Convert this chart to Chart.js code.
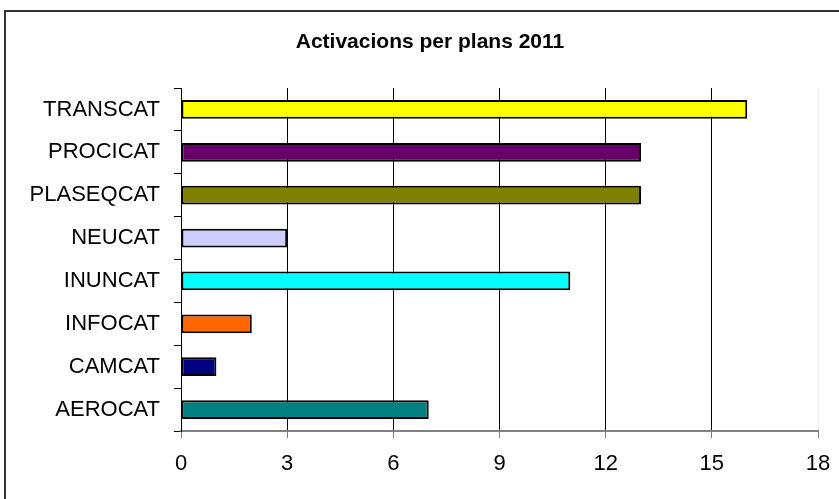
<!DOCTYPE html>
<html>
<head>
<meta charset="utf-8">
<script src="https://cdn.jsdelivr.net/npm/chart.js@4/dist/chart.umd.min.js"></script>
<style>
  html, body { margin: 0; padding: 0; background: #fff; }
  #wrap { position: relative; width: 839px; height: 499px; }
</style>
</head>
<body>
<div id="wrap"><canvas id="chart" width="839" height="499"></canvas></div>
<script>
// data, top to bottom
const plans = ["TRANSCAT", "PROCICAT", "PLASEQCAT", "NEUCAT", "INUNCAT", "INFOCAT", "CAMCAT", "AEROCAT"];
const activations = [16, 13, 13, 3, 11, 2, 1, 7];
const barColors = ["#ffff00", "#660066", "#808000", "#ccccff", "#00ffff", "#ff6600", "#000080", "#008080"];
const xTicks = [0, 3, 6, 9, 12, 15, 18];
const chartTitle = "Activacions per plans 2011";

const FONT = "'Liberation Sans', Arial, sans-serif";

// white background + outer frame of the chart object
const Frame = {
  id: "frame",
  beforeDraw(chart) {
    const { ctx } = chart;
    ctx.save();
    ctx.fillStyle = "#fff";
    ctx.fillRect(0, 0, chart.width, chart.height);
    ctx.strokeStyle = "#333";
    ctx.lineWidth = 2;
    ctx.strokeRect(5, 11, 900, 600);
    ctx.restore();
  }
};

// title sits a bit right of the plot centre in the original, so draw it ourselves
const Title = {
  id: "plainTitle",
  afterDraw(chart) {
    const { ctx } = chart;
    ctx.save();
    ctx.font = "bold 21px " + FONT;
    ctx.fillStyle = "#000";
    ctx.textAlign = "center";
    ctx.textBaseline = "alphabetic";
    ctx.fillText(chartTitle, 430, 48);
    ctx.restore();
  }
};

new Chart(document.getElementById("chart"), {
  type: "bar",
  data: {
    labels: plans,
    datasets: [{
      data: activations,
      backgroundColor: barColors,
      borderColor: "#000",
      borderWidth: 2,
      borderSkipped: false,
      barPercentage: 0.44,
      categoryPercentage: 1
    }]
  },
  options: {
    indexAxis: "y",
    responsive: false,
    animation: false,
    layout: { padding: { left: 0, right: 21, top: 88, bottom: 0 } },
    plugins: {
      legend: { display: false },
      tooltip: { enabled: false },
      title: { display: false }
    },
    scales: {
      x: {
        min: 0,
        max: 18,
        afterBuildTicks: (s) => { s.ticks = xTicks.map(v => ({ value: v })); },
        afterFit: (s) => {
          s.height = 68;
          // keep the plot edge fixed, the "18" label has room in the padding
          s.paddingLeft = 0;
          s.paddingRight = 0;
        },
        grid: {
          color: (c) => (c.tick && c.tick.value === 18 ? "#eeeeee" : "#000"),
          tickColor: "#808080",
          tickLength: 7,
          lineWidth: 1
        },
        border: { color: "#808080", width: 2 },
        ticks: {
          color: "#000",
          padding: 13,
          font: { family: FONT, size: 22 }
        }
      },
      y: {
        afterFit: (s) => { s.width = 181; },
        grid: {
          drawOnChartArea: false,
          offset: true,
          tickColor: "#000",
          tickLength: 7
        },
        border: { color: "#000", width: 1 },
        ticks: {
          color: "#000",
          padding: 14,
          font: { family: FONT, size: 22 }
        }
      }
    }
  },
  plugins: [Frame, Title]
});
</script>
</body>
</html>
